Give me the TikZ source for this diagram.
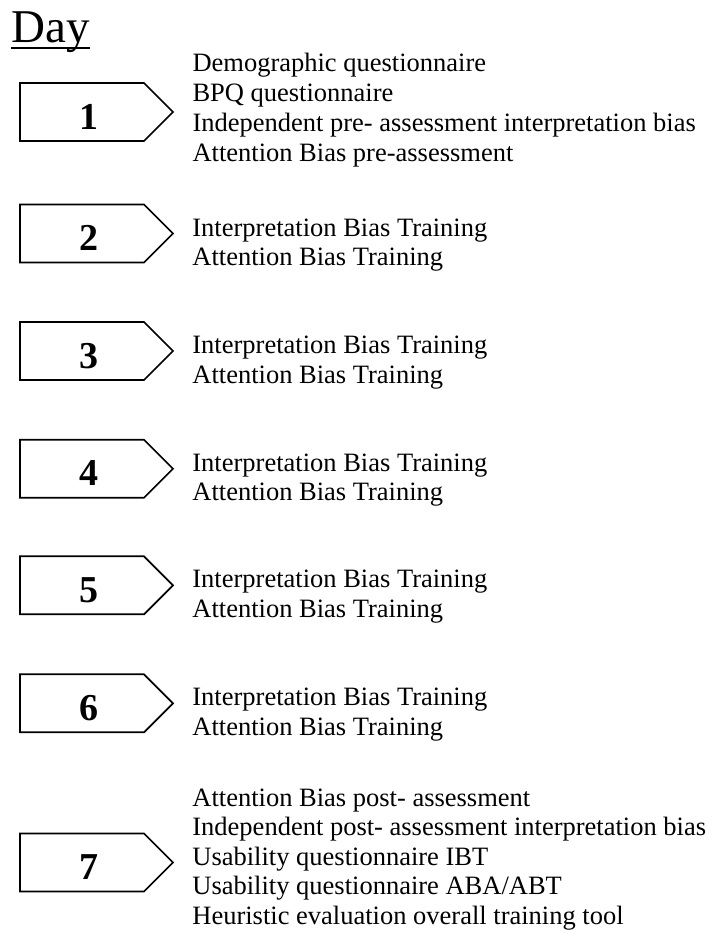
\documentclass[tikz,border=0pt]{standalone}
\usepackage{fontspec}
\setmainfont{Liberation Serif}
\begin{document}
\begin{tikzpicture}[x=1pt, y=-1pt,
    daybox/.style={line width=1.7pt, fill=white},
    daynum/.style={inner sep=0pt, anchor=base, font=\fontsize{38}{40}\selectfont\bfseries},
    dayline/.style={inner sep=0pt, anchor=base west, font=\fontsize{26.5}{29.7}\selectfont}]
    \useasboundingbox (0,0) rectangle (712,934);

    % Nadpis
    \node[inner sep=0pt, anchor=base west, font=\fontsize{47}{50}\selectfont] (title) at (11,42.7) {Day};
    \draw[line width=2pt] ([yshift=-5pt]title.base west) -- ([yshift=-5pt]title.base east);

    % Sipky se dny
    \foreach \d/\c in {1/112, 2/233.5, 3/351, 4/468.7, 5/585.3, 6/703.3, 7/862.5} {
        \draw[daybox] (20,\c-29) -- (144,\c-29) -- (173,\c) -- (144,\c+29) -- (20,\c+29) -- cycle;
        \node[daynum] (day\d) at (89,\c+17) {\d};
    }

    % Den 1
    \foreach \t [count=\i] in {Demographic questionnaire, BPQ questionnaire,
        Independent pre- assessment interpretation bias, Attention Bias pre-assessment} {
        \node[dayline] (first\i) at (192.3,41.7+30*\i) {\t};
    }

    % Dny 2 az 6
    \foreach \d/\c in {2/233.5, 3/351, 4/468.7, 5/585.3, 6/703.3} {
        \node[dayline] (ibt\d) at (192.2,\c+2.5) {Interpretation Bias Training};
        \node[dayline] (abt\d) at (192.2,\c+32.2) {Attention Bias Training};
    }

    % Den 7
    \foreach \t [count=\i] in {Attention Bias post- assessment,
        Independent post- assessment interpretation bias, Usability questionnaire IBT,
        {Usability questionnaire ABA/ABT}, Heuristic evaluation overall training tool} {
        \node[dayline] (last\i) at (192.2,776.4+29.6*\i) {\t};
    }
\end{tikzpicture}
\end{document}
